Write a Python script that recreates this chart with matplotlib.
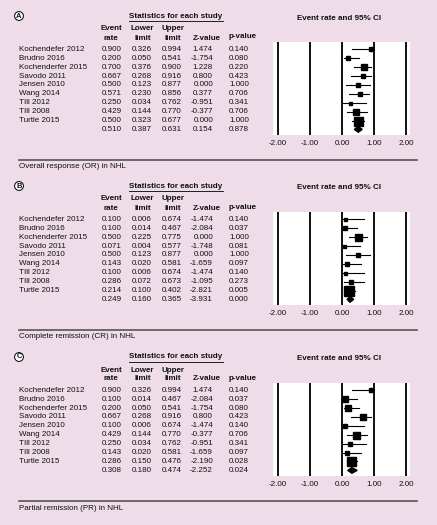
import matplotlib.pyplot as plt
from matplotlib.lines import Line2D
from matplotlib.patches import Polygon

plt.rcParams['font.family'] = ['Liberation Sans', 'DejaVu Sans']

studies = ['Kochendefer 2012', 'Brudno 2016', 'Kochenderfer 2015', 'Savodo 2011',
           'Jensen 2010', 'Wang 2014', 'TIll 2012', 'TIll 2008', 'Turtle 2015']

letters = ['A', 'B', 'C']
captions = ['Overall response (OR) in NHL', 'Complete remission (CR) in NHL',
            'Partial remission (PR) in NHL']

# last entry of each list is the pooled estimate
or_rate = [0.900, 0.200, 0.700, 0.667, 0.500, 0.571, 0.250, 0.429, 0.500, 0.510]
or_low = [0.326, 0.050, 0.376, 0.268, 0.123, 0.230, 0.034, 0.144, 0.323, 0.387]
or_up = [0.994, 0.541, 0.900, 0.916, 0.877, 0.856, 0.762, 0.770, 0.677, 0.631]
or_z = [1.474, -1.754, 1.228, 0.800, 0.000, 0.377, -0.951, -0.377, 0.000, 0.154]
or_p = [0.140, 0.080, 0.220, 0.423, 1.000, 0.706, 0.341, 0.706, 1.000, 0.878]
or_w = [4, 5, 6, 5, 4, 5, 3, 6, 9]

cr_rate = [0.100, 0.100, 0.500, 0.071, 0.500, 0.143, 0.100, 0.286, 0.214, 0.249]
cr_low = [0.006, 0.014, 0.225, 0.004, 0.123, 0.020, 0.006, 0.072, 0.100, 0.160]
cr_up = [0.674, 0.467, 0.775, 0.577, 0.877, 0.581, 0.674, 0.673, 0.402, 0.365]
cr_z = [-1.474, -2.084, 0.000, -1.748, 0.000, -1.659, -1.474, -1.095, -2.821, -3.931]
cr_p = [0.140, 0.037, 1.000, 0.081, 1.000, 0.097, 0.140, 0.273, 0.005, 0.000]
cr_w = [3, 4, 7, 3, 4, 4, 3, 5, 10]

pr_rate = [0.900, 0.100, 0.200, 0.667, 0.100, 0.429, 0.250, 0.143, 0.286, 0.308]
pr_low = [0.326, 0.014, 0.050, 0.268, 0.006, 0.144, 0.034, 0.020, 0.150, 0.180]
pr_up = [0.994, 0.467, 0.541, 0.916, 0.674, 0.770, 0.762, 0.581, 0.476, 0.474]
pr_z = [1.474, -2.084, -1.754, 0.800, -1.474, -0.377, -0.951, -1.659, -2.190, -2.252]
pr_p = [0.140, 0.037, 0.080, 0.423, 0.140, 0.706, 0.341, 0.097, 0.028, 0.024]
pr_w = [5, 6, 6, 6, 5, 7, 5, 5, 9]

ticks = [-2, -1, 0, 1, 2]
tick_labels = ['-2.00', '-1.00', '0.00', '1.00', '2.00']

panels = [
    (or_rate, or_low, or_up, or_z, or_p, or_w),
    (cr_rate, cr_low, cr_up, cr_z, cr_p, cr_w),
    (pr_rate, pr_low, pr_up, pr_z, pr_p, pr_w),
]

W, H = 437, 525
bg = '#eedce8'
fs = 5.8
fig = plt.figure(figsize=(W / 100, H / 100), dpi=100, facecolor=bg)


def fx(x):
    return x / W


def fy(y):
    return 1 - y / H


def txt(x, y, s, **kw):
    kw.setdefault('fontsize', fs)
    kw.setdefault('color', '#111111')
    fig.text(fx(x), fy(y), s, va='center', **kw)


row0, dy = 49.3, 8.9
offsets = [0, 170, 341]

for k, (rate, low, up, z, p, w) in enumerate(panels):
    o = offsets[k]
    txt(19, 16 + o, letters[k], ha='center', fontweight='bold', fontsize=5.5,
        bbox=dict(boxstyle='circle,pad=0.12', fc='white', ec='k', lw=0.7))
    txt(176, 16 + o, 'Statistics for each study', ha='center', fontweight='bold')
    fig.add_artist(Line2D([fx(129), fx(223)], [fy(20.5 + o)] * 2, color='k', lw=0.6))
    txt(111, 29 + o, 'Event', ha='center', fontweight='bold')
    txt(111, 38 + o, 'rate', ha='center', fontweight='bold')
    txt(142.5, 29 + o, 'Lower', ha='center', fontweight='bold')
    txt(142.5, 38 + o, 'limit', ha='center', fontweight='bold')
    txt(172.5, 29 + o, 'Upper', ha='center', fontweight='bold')
    txt(172.5, 38 + o, 'limit', ha='center', fontweight='bold')
    txt(193, 38 + o, 'Z-value', ha='left', fontweight='bold')
    txt(229, 37 + o, 'p-value', ha='left', fontweight='bold')
    txt(339, 18 + o, 'Event rate and 95% CI', ha='center', fontweight='bold')

    for i in range(len(rate)):
        y = row0 + dy * i + o
        if i < len(studies):
            txt(19, y, studies[i], ha='left')
        txt(122, y, f'{rate[i]:.3f}', ha='right')
        txt(152, y, f'{low[i]:.3f}', ha='right')
        txt(182, y, f'{up[i]:.3f}', ha='right')
        txt(213, y, f'{z[i]:.3f}', ha='right')
        txt(229, y, f'{p[i]:.3f}', ha='left')

    # forest plot
    top, bot = 42 + o, 135 + o
    ax = fig.add_axes([fx(273), fy(bot), fx(410) - fx(273), (bot - top) / H])
    ax.set_facecolor('white')
    for s in ax.spines.values():
        s.set_visible(False)
    nrows = (bot - top) / dy
    first = (row0 + o - top) / dy
    ax.set_ylim(nrows - first, -first)
    ax.set_xlim((273 - 342) / 32, (410 - 342) / 32)
    for t in ticks:
        ax.axvline(t, color='#111111', lw=1.4)
    n = len(w)
    for i in range(n):
        ax.plot([low[i], up[i]], [i, i], color='k', lw=0.8)
        ax.plot(rate[i], i, 's', ms=w[i] * 0.72, color='k', mec='k')
    h = 0.32
    ax.add_patch(Polygon([(low[n], n), (rate[n], n - h), (up[n], n), (rate[n], n + h)],
                         closed=True, color='k'))
    ax.set_xticks(ticks)
    ax.set_xticklabels(tick_labels, fontsize=fs, color='#111111')
    ax.tick_params(axis='x', length=0, pad=3.5)
    ax.set_yticks([])

    fig.add_artist(Line2D([fx(19), fx(417)], [fy(160 + o)] * 2, color='#555555', lw=1.2))
    txt(19, 167 + o, captions[k], ha='left')

fig.savefig('out.png', dpi=100, facecolor=bg)
